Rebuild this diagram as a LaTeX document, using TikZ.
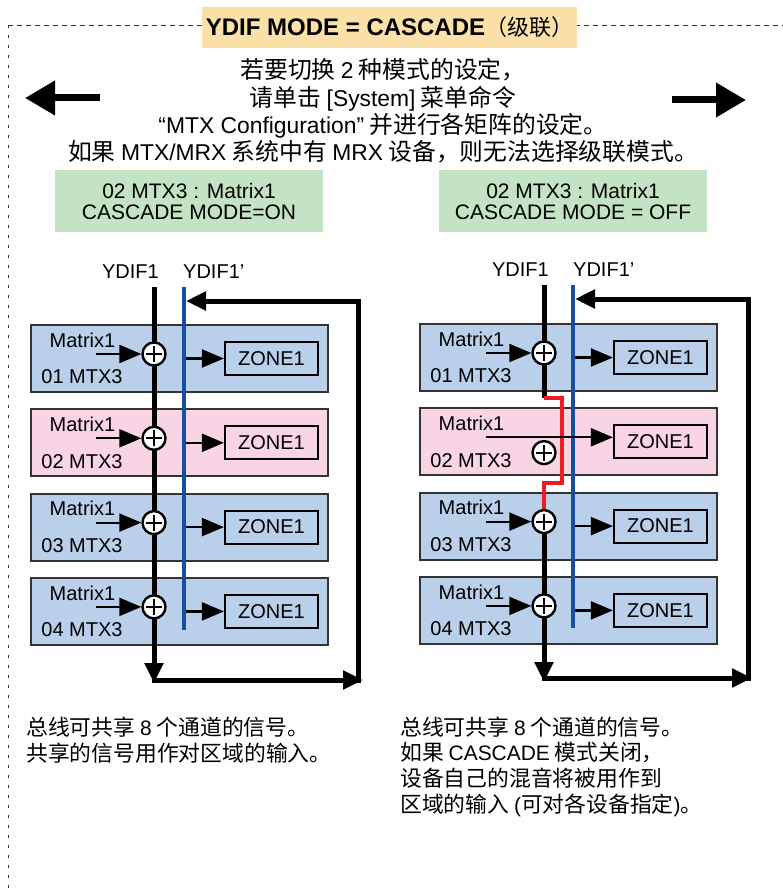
\documentclass[tikz,border=0pt]{standalone}
\usepackage{fontspec}
\setmainfont{Liberation Sans}
\newfontfamily\cjk{Noto Sans CJK SC}
\usepackage{graphicx}
\usetikzlibrary{arrows.meta}

\definecolor{boxblue}{RGB}{185,207,234}
\definecolor{boxpink}{RGB}{249,212,228}
\definecolor{boxgreen}{RGB}{196,227,196}
\definecolor{titleorange}{RGB}{251,225,168}
\definecolor{busblue}{RGB}{22,78,160}
\definecolor{cascred}{RGB}{237,28,36}
\definecolor{framegray}{RGB}{51,51,51}

\newcommand\latn[1]{{\rmfamily\scalebox{0.96}{#1}}}

\tikzset{
	every node/.style={inner sep=0pt},
	modtext/.style={font=\fontsize{20}{22}\selectfont},
	module/.style={draw=framegray, line width=1.8pt, minimum width=297pt, minimum height=67pt},
	zonebox/.style={draw=black, line width=2.2pt, minimum width=93pt, minimum height=33pt, modtext},
	mixer/.style={circle, draw=black, fill=white, line width=2.4pt, minimum size=23pt,
		path picture={\draw[line width=2pt]
			([xshift=-8pt]path picture bounding box.center) -- ([xshift=8pt]path picture bounding box.center)
			([yshift=-8pt]path picture bounding box.center) -- ([yshift=8pt]path picture bounding box.center);}},
	sig/.style={line width=2.2pt, -{Triangle[length=22pt 0,width=18pt 0]}},
	bus/.style={line width=5pt},
	busend/.style={bus, -{Triangle[length=20pt 0,width=18pt 0]}},
	yb/.style={line width=4pt, draw=busblue},
	cascade/.style={line width=3.5pt, draw=cascred},
	bigarrow/.style={line width=7pt, -{Triangle[length=30pt 0,width=33pt 0]}},
	head/.style={fill=boxgreen, minimum width=268pt, minimum height=62pt, align=center, font=\fontsize{21}{21}\selectfont},
	note/.style={font=\cjk\fontsize{21.8}{25.7}\selectfont, align=left, anchor=west},
}

\begin{document}
\begin{tikzpicture}[x=1pt,y=-1pt]
	\useasboundingbox (0,0) rectangle (783,888);
	\draw[framegray, line width=0.8pt, dash pattern=on 3pt off 7pt] (8,888) -- (8,25);
	\draw[framegray, line width=0.8pt, dash pattern=on 5pt off 4pt] (8,25) -- (783,25);
	\node[fill=titleorange, minimum width=375pt, minimum height=41pt] (title) at (389.5,27.5)
		{\bfseries\fontsize{24}{26}\selectfont YDIF MODE = CASCADE{\cjk\mdseries\fontsize{22}{24}\selectfont（级联）}};
	\node[font=\cjk\fontsize{23.8}{27.3}\selectfont, align=center] (intro) at (383,111)
		{若要切换 \latn{2} 种模式的设定，\\请单击 \latn{[System]} 菜单命令\\\latn{“MTX Configuration”} 并进行各矩阵的设定。\\如果 \latn{MTX/MRX} 系统中有 \latn{MRX} 设备，则无法选择级联模式。};
	\coordinate (la0) at (100,98);
	\coordinate (la1) at (25,98);
	\coordinate (ra0) at (672,100);
	\coordinate (ra1) at (746,100);
	\draw[bigarrow] (la0) -- (la1);
	\draw[bigarrow] (ra0) -- (ra1);
	\node[head] (hon) at (189,201) {02 MTX3 : Matrix1\\CASCADE MODE=ON};
	\node[head] (hoff) at (573,201) {02 MTX3 : Matrix1\\CASCADE MODE = OFF};

	% cascade on
	\node[modtext, anchor=east] (Ly) at (159,272) {YDIF1};
	\node[modtext, anchor=west] (Lyp) at (183,272) {YDIF1’};
	\foreach \i/\col in {1/boxblue,2/boxpink,3/boxblue,4/boxblue}{
		\pgfmathsetmacro{\c}{358.5+84.3*(\i-1)}
		\node[module, fill=\col] (Lm\i) at (179.5,\c) {};
		\node[modtext] (Lmx\i) at (82.5,\c-18.5) {Matrix1};
		\node[modtext] (Lid\i) at (82,\c+18.5) {0\i\ MTX3};
		\node[zonebox] (Lz\i) at (271.5,\c) {ZONE1};
	}
	\coordinate (Ltop) at (154,287);
	\coordinate (Lend) at (154,683);
	\coordinate (Lb0) at (184,287);
	\coordinate (Lb1) at (184,630);
	\coordinate (Lr0) at (151.5,680);
	\coordinate (Lr1) at (363,680);
	\coordinate (Lr2) at (358,682.5);
	\coordinate (Lr3) at (358,301);
	\coordinate (Lr4) at (186,301);
	\draw[busend] (Ltop) -- (Lend);
	\draw[yb] (Lb0) -- (Lb1);
	\draw[busend] (Lr0) -- (Lr1);
	\draw[busend] (Lr2) -- (Lr3) -- (Lr4);
	\foreach \i in {1,...,4}{
		\pgfmathsetmacro{\c}{358.5+84.3*(\i-1)}
		\node[mixer] (Lx\i) at (154,\c-4.5) {};
		\coordinate (Lin\i) at (96,\c-4.5);
		\coordinate (Lt\i) at (186,\c);
		\draw[sig] (Lin\i) -- (Lx\i);
		\draw[sig] (Lt\i) -- (Lz\i);
	}

	% cascade off
	\begin{scope}[shift={(389,0)}]
		\node[modtext, anchor=east] (Ry) at (160,270) {YDIF1};
		\node[modtext, anchor=west] (Ryp) at (184,270) {YDIF1’};
		\foreach \i/\col in {1/boxblue,2/boxpink,3/boxblue,4/boxblue}{
			\pgfmathsetmacro{\c}{357.5+84.3*(\i-1)}
			\node[module, fill=\col] (Rm\i) at (179.5,\c) {};
			\node[modtext] (Rmx\i) at (82.5,\c-18.5) {Matrix1};
			\node[modtext] (Rid\i) at (82,\c+18.5) {0\i\ MTX3};
			\node[zonebox] (Rz\i) at (271.5,\c) {ZONE1};
			\coordinate (Rc\i) at (155,\c-4.5);
			\coordinate (Rin\i) at (97,\c-4.5);
		}
		\coordinate (Rtop) at (155,285);
		\coordinate (Rsplit) at (155,398);
		\coordinate (Rj1) at (173,398);
		\coordinate (Rj2) at (173,483);
		\coordinate (Rj3) at (155,483);
		\coordinate (Rend) at (155,682);
		\coordinate (Rb0) at (184,285);
		\coordinate (Rb1) at (184,628);
		\coordinate (Rr0) at (152.5,678);
		\coordinate (Rr1) at (363,678);
		\coordinate (Rr2) at (359,680.5);
		\coordinate (Rr3) at (359,299);
		\coordinate (Rr4) at (186,299);
		\draw[bus] (Rtop) -- (Rsplit);
		\draw[cascade] (Rsplit) -- (Rj1) -- (Rj2) -- (Rj3) -- (Rc3);
		\draw[busend] (Rc3) -- (Rend);
		\draw[yb] (Rb0) -- (Rb1);
		\draw[busend] (Rr0) -- (Rr1);
		\draw[busend] (Rr2) -- (Rr3) -- (Rr4);
		\foreach \i in {1,3,4}{
			\pgfmathsetmacro{\c}{357.5+84.3*(\i-1)}
			\node[mixer] (Rx\i) at (Rc\i) {};
			\coordinate (Rt\i) at (186,\c);
			\draw[sig] (Rin\i) -- (Rx\i);
			\draw[sig] (Rt\i) -- (Rz\i);
		}
		\node[mixer] (Rx2) at (155,452.6) {};
		\draw[sig] (Rin2) -- (Rin2 -| Rz2.west);
	\end{scope}

	\node[note] (noteL) at (26,740.5) {总线可共享 \latn{8} 个通道的信号。\\共享的信号用作对区域的输入。};
	\node[note] (noteR) at (400,766.5) {总线可共享 \latn{8} 个通道的信号。\\如果 \latn{CASCADE} 模式关闭，\\设备自己的混音将被用作到\\区域的输入 \latn{(}可对各设备指定\latn{)}。};
\end{tikzpicture}
\end{document}
